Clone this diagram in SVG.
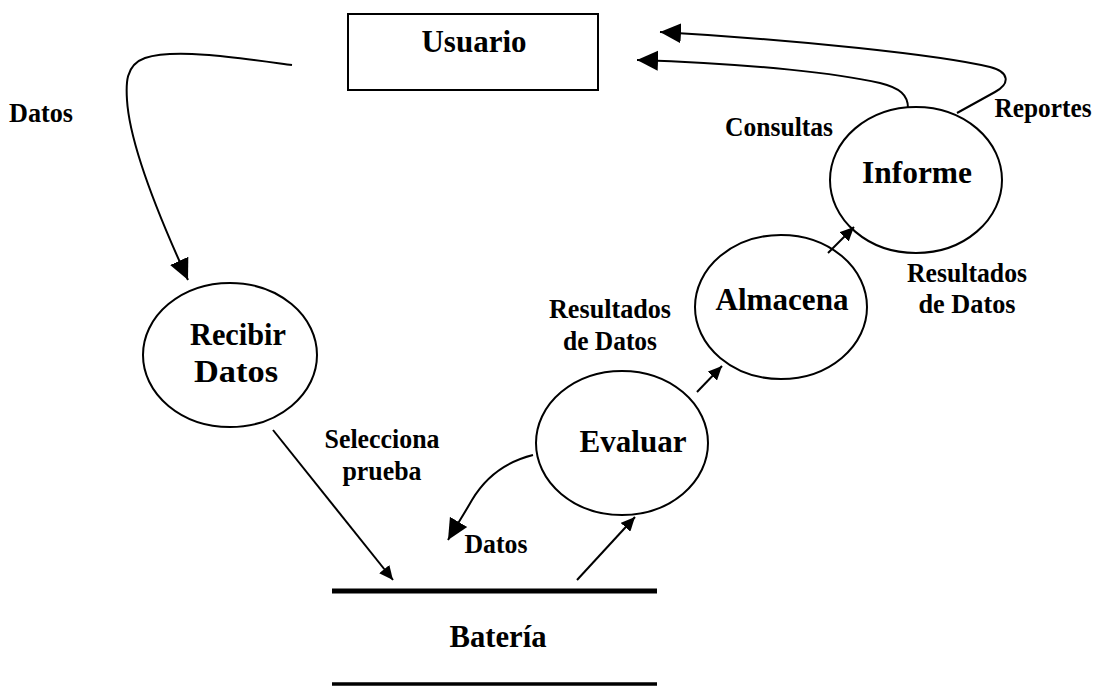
<svg xmlns="http://www.w3.org/2000/svg" width="1104" height="687" viewBox="0 0 1104 687">
<style>
.n{fill:none;stroke:#000;stroke-width:2}
.c{fill:none;stroke:#000;stroke-width:2}
.t{font-family:"Liberation Serif","Times New Roman",serif;font-weight:bold;fill:#000;text-anchor:middle}
.big{font-size:32px}
.lbl{font-size:27px}
</style>
<defs>
<marker id="ah" markerUnits="userSpaceOnUse" markerWidth="22" markerHeight="22" viewBox="0 0 22 22" refX="21" refY="11" orient="auto">
<path d="M0,1 L21,11 L0,21 z" fill="#000"/>
</marker>
<marker id="as" markerUnits="userSpaceOnUse" markerWidth="15" markerHeight="13" viewBox="0 0 15 13" refX="14" refY="6.5" orient="auto">
<path d="M0,0 L14,6.5 L0,13 z" fill="#000"/>
</marker>
</defs>
<rect width="1104" height="687" fill="#fff"/>

<g id="usuario">
<rect class="n" x="348" y="14" width="250" height="76"/>
<text class="t big" x="474" y="52" textLength="105" lengthAdjust="spacingAndGlyphs">Usuario</text>
</g>
<g id="recibir">
<ellipse class="n" cx="230" cy="355" rx="87" ry="72"/>
<text class="t big" x="238" y="345" textLength="96" lengthAdjust="spacingAndGlyphs">Recibir</text>
<text class="t big" x="236" y="382" textLength="84" lengthAdjust="spacingAndGlyphs">Datos</text>
</g>
<g id="evaluar">
<ellipse class="n" cx="622" cy="443" rx="86" ry="72"/>
<text class="t big" x="633" y="452" textLength="107" lengthAdjust="spacingAndGlyphs">Evaluar</text>
</g>
<g id="almacena">
<ellipse class="n" cx="781" cy="307" rx="86" ry="72"/>
<text class="t big" x="782" y="310" textLength="133" lengthAdjust="spacingAndGlyphs">Almacena</text>
</g>
<g id="informe">
<ellipse class="n" cx="916" cy="180" rx="86" ry="73"/>
<text class="t big" x="917" y="183" textLength="110" lengthAdjust="spacingAndGlyphs">Informe</text>
</g>
<g id="bateria">
<line x1="332" y1="591" x2="657" y2="591" stroke="#000" stroke-width="5"/>
<line x1="332" y1="684" x2="657" y2="684" stroke="#000" stroke-width="3.5"/>
<text class="t big" x="498" y="647" textLength="97" lengthAdjust="spacingAndGlyphs">Batería</text>
</g>

<g id="connectors">
<path class="c" d="M292,65 C240,58 175,48 145,58 C125,65 126,85 127,100 C130,150 165,230 188,280" marker-end="url(#ah)"/>
<path class="c" d="M908,108 C908,95 900,88 880,83 C840,74 760,64 637,60" marker-end="url(#ah)"/>
<path class="c" d="M957,113 L995,92 C1010,84 1010,72 990,67 C940,55 800,40 660,32" marker-end="url(#ah)"/>
<path class="c" d="M533,455 C505,462 485,478 472,500 C464,514 455,528 448,540" marker-end="url(#ah)"/>
<path class="c" d="M273,430 L393,580" marker-end="url(#as)"/>
<path class="c" d="M577,580 L635,517" marker-end="url(#as)"/>
<path class="c" d="M697,392 L722,366" marker-end="url(#as)"/>
<path class="c" d="M828,253 L854,227" marker-end="url(#as)"/>
</g>

<g id="labels">
<text class="t lbl" x="41" y="122" textLength="64" lengthAdjust="spacingAndGlyphs">Datos</text>
<text class="t lbl" x="382" y="448" textLength="115" lengthAdjust="spacingAndGlyphs">Selecciona</text>
<text class="t lbl" x="382" y="480" textLength="79" lengthAdjust="spacingAndGlyphs">prueba</text>
<text class="t lbl" x="496" y="553" textLength="63" lengthAdjust="spacingAndGlyphs">Datos</text>
<text class="t lbl" x="610" y="318" textLength="122" lengthAdjust="spacingAndGlyphs">Resultados</text>
<text class="t lbl" x="610" y="350" textLength="94" lengthAdjust="spacingAndGlyphs">de Datos</text>
<text class="t lbl" x="779" y="136" textLength="108" lengthAdjust="spacingAndGlyphs">Consultas</text>
<text class="t lbl" x="1043" y="117" textLength="97" lengthAdjust="spacingAndGlyphs">Reportes</text>
<text class="t lbl" x="967" y="282" textLength="120" lengthAdjust="spacingAndGlyphs">Resultados</text>
<text class="t lbl" x="967" y="313" textLength="97" lengthAdjust="spacingAndGlyphs">de Datos</text>
</g>
</svg>
